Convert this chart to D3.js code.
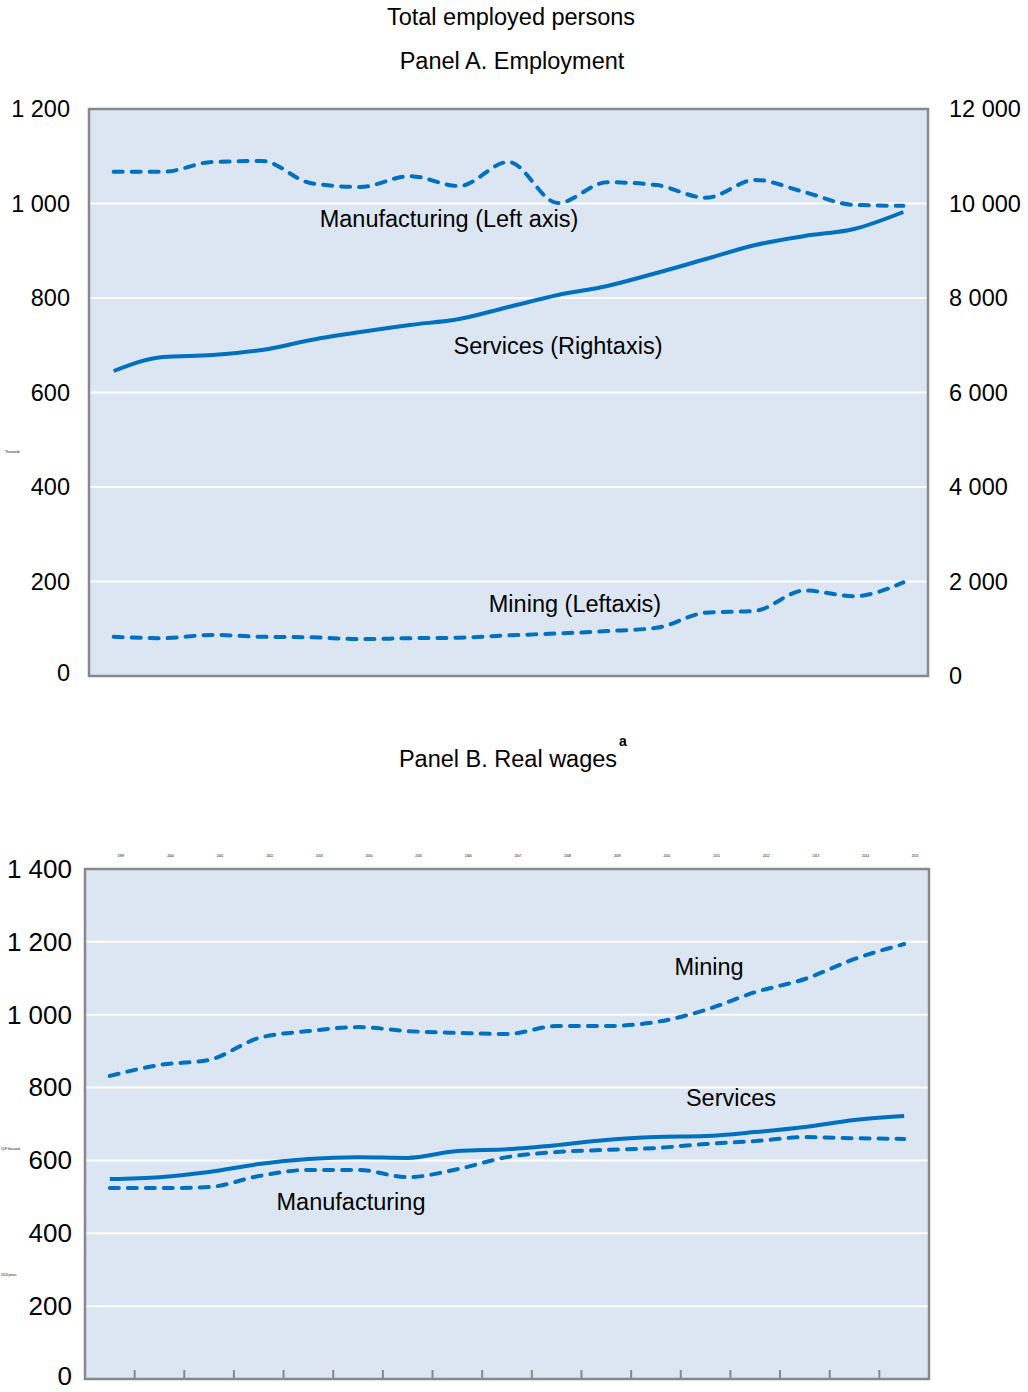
<!DOCTYPE html>
<html>
<head>
<meta charset="utf-8">
<script src="https://cdn.jsdelivr.net/npm/d3@7"></script>
<style>
  body { margin: 0; background: #fff; }
  text { font-family: "Liberation Sans", Arial, sans-serif; fill: #000; }
</style>
</head>
<body>
<div id="chart"></div>
<script>
// years (tiny labels in the reference, unreadable, estimated)
var years = ['1999','2000','2001','2002','2003','2004','2005','2006','2007','2008','2009','2010','2011','2012','2013','2014','2015'];

// Panel A: employment, thousands
var empManufacturing = [1067, 1067, 1088, 1090, 1043, 1035, 1058, 1037, 1088, 1001, 1045, 1039, 1012, 1050, 1024, 997, 995];
var empServices = [6455, 6751, 6794, 6899, 7111, 7280, 7429, 7556, 7810, 8063, 8254, 8529, 8825, 9122, 9312, 9460, 9820];
var empMining = [83, 80, 87, 83, 82, 78, 80, 81, 86, 90, 95, 102, 134, 138, 181, 169, 198];
var aLeftTicks = [0, 200, 400, 600, 800, 1000, 1200];
var aRightTicks = [0, 2000, 4000, 6000, 8000, 10000, 12000];

// Panel B: real wages
var wageMining = [832, 862, 876, 936, 955, 966, 955, 950, 947, 969, 969, 980, 1013, 1062, 1098, 1153, 1194];
var wageServices = [549, 554, 568, 590, 604, 609, 607, 626, 631, 642, 656, 664, 667, 678, 692, 711, 722];
var wageManufacturing = [524, 524, 527, 557, 574, 574, 554, 576, 609, 623, 629, 634, 645, 653, 664, 661, 659];
var bTicks = [0, 200, 400, 600, 800, 1000, 1200, 1400];

var blue = "#0070c0";
var fs = "23.5px";
var fmt = function(v) { return d3.format(",")(v).replace(/,/g, " "); };

var svg = d3.select("#chart").append("svg")
  .attr("width", 1028)
  .attr("height", 1392);

// titles
svg.append("text").attr("x", 511).attr("y", 25).attr("text-anchor", "middle")
  .style("font-size", fs).text("Total employed persons");
svg.append("text").attr("x", 512).attr("y", 69).attr("text-anchor", "middle")
  .style("font-size", fs).text("Panel A. Employment");

function drawPanel(cfg) {
  var x = d3.scaleBand().domain(years).range([cfg.left, cfg.right]);
  var y = d3.scaleLinear().domain([0, cfg.max]).range([cfg.bottom, cfg.top]);

  svg.append("rect")
    .attr("x", cfg.left).attr("y", cfg.top)
    .attr("width", cfg.right - cfg.left).attr("height", cfg.bottom - cfg.top)
    .attr("fill", "#dce6f2");

  // gridlines
  svg.append("g").selectAll("line")
    .data(cfg.ticks.slice(1, -1))
    .enter().append("line")
    .attr("x1", cfg.left).attr("x2", cfg.right)
    .attr("y1", function(d) { return y(d); })
    .attr("y2", function(d) { return y(d); })
    .attr("stroke", "#fff").attr("stroke-width", 2);

  // left axis labels
  var yl = svg.append("g")
    .attr("transform", "translate(" + cfg.left + ",0)")
    .call(d3.axisLeft(y).tickValues(cfg.ticks).tickFormat(fmt).tickSize(0).tickPadding(cfg.labelPad));
  yl.select(".domain").remove();
  yl.selectAll("text").style("font-size", cfg.tickFs).attr("fill", "#000")
    .style("font-family", "Liberation Sans, Arial, sans-serif")
    .attr("dy", function(d) { return d === 0 ? "0.2em" : "0.32em"; });

  cfg.series.forEach(function(s) {
    var ys = s.scale ? d3.scaleLinear().domain(s.scale).range([cfg.bottom, cfg.top]) : y;
    var line = d3.line()
      .curve(d3.curveMonotoneX)
      .x(function(d, i) { return x(years[i]) + x.bandwidth() / 2; })
      .y(function(d) { return ys(d); });
    svg.append("path")
      .datum(s.values)
      .attr("d", line)
      .attr("fill", "none")
      .attr("stroke", blue)
      .attr("stroke-width", 4)
      .attr("stroke-linecap", s.dashed ? "round" : "butt")
      .attr("stroke-linejoin", "round")
      .attr("stroke-dasharray", s.dashed ? "9,9" : null);
  });

  cfg.labels.forEach(function(l) {
    svg.append("text")
      .attr("x", l.x).attr("y", l.y)
      .attr("text-anchor", "middle")
      .style("font-size", fs)
      .text(l.text);
  });

  // frame
  svg.append("rect")
    .attr("x", cfg.left).attr("y", cfg.top)
    .attr("width", cfg.right - cfg.left).attr("height", cfg.bottom - cfg.top)
    .attr("fill", "none").attr("stroke", "#888").attr("stroke-width", 2.5);

  return x;
}

// Panel A
drawPanel({
  left: 89, right: 928, top: 109, bottom: 676, max: 1200,
  ticks: aLeftTicks, labelPad: 19, tickFs: fs,
  series: [
    { values: empManufacturing, dashed: true },
    { values: empServices, dashed: false, scale: [0, 12000] },
    { values: empMining, dashed: true }
  ],
  labels: [
    { text: "Manufacturing (Left axis)", x: 449, y: 227 },
    { text: "Services (Rightaxis)", x: 558, y: 354 },
    { text: "Mining (Leftaxis)", x: 575, y: 612 }
  ]
});

// right axis of panel A
var yR = d3.scaleLinear().domain([0, 12000]).range([676, 109]);
var yr = svg.append("g")
  .attr("transform", "translate(928,0)")
  .call(d3.axisRight(yR).tickValues(aRightTicks).tickFormat(fmt).tickSize(0).tickPadding(21));
yr.select(".domain").remove();
yr.selectAll("text").style("font-size", fs).attr("fill", "#000")
  .style("font-family", "Liberation Sans, Arial, sans-serif");

// tiny unit label
svg.append("text").attr("x", 5).attr("y", 453).style("font-size", "3px").attr("fill", "#888").text("Thousands");

// Panel B title
svg.append("text").attr("x", 508).attr("y", 767).attr("text-anchor", "middle")
  .style("font-size", fs).text("Panel B. Real wages");
svg.append("text").attr("x", 623).attr("y", 746).attr("text-anchor", "middle")
  .style("font-size", "14px").style("font-weight", "bold").text("a");

var xB = drawPanel({
  left: 85, right: 929, top: 869, bottom: 1379, max: 1400,
  ticks: bTicks, labelPad: 13, tickFs: "26px",
  series: [
    { values: wageMining, dashed: true },
    { values: wageServices, dashed: false },
    { values: wageManufacturing, dashed: true }
  ],
  labels: [
    { text: "Mining", x: 709, y: 975 },
    { text: "Services", x: 731, y: 1106 },
    { text: "Manufacturing", x: 351, y: 1210 }
  ]
});

// panel B: category ticks on the bottom edge
svg.append("g").selectAll("line")
  .data(years.slice(1))
  .enter().append("line")
  .attr("x1", function(d) { return xB(d); })
  .attr("x2", function(d) { return xB(d); })
  .attr("y1", 1379).attr("y2", 1370)
  .attr("stroke", "#888").attr("stroke-width", 2);

// panel B: tiny year labels above the plot
svg.append("g").selectAll("text")
  .data(years)
  .enter().append("text")
  .attr("x", function(d) { return xB(d) + xB.bandwidth() / 2 + 11; })
  .attr("y", 857)
  .attr("text-anchor", "middle")
  .style("font-size", "3px")
  .attr("fill", "#888")
  .text(function(d) { return d; });

svg.append("text").attr("x", 1).attr("y", 1150).style("font-size", "3px").attr("fill", "#888").text("CLP thousand");
svg.append("text").attr("x", 1).attr("y", 1276).style("font-size", "3px").attr("fill", "#888").text("2013 prices");
</script>
</body>
</html>
